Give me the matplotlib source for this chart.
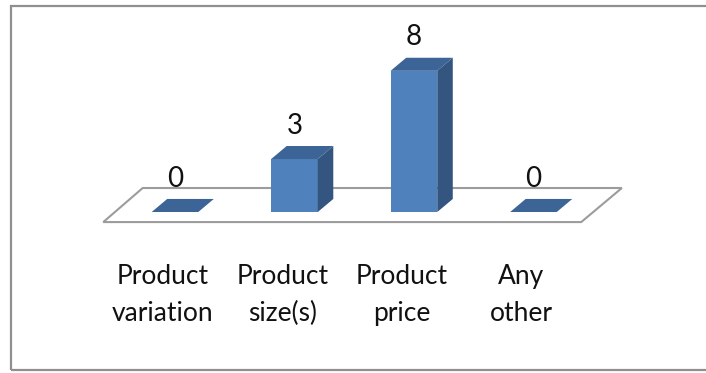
import matplotlib
matplotlib.use("Agg")
import matplotlib.pyplot as plt
from matplotlib.patches import Polygon, Rectangle

# survey counts per reason
categories = ["Product\nvariation", "Product\nsize(s)", "Product\nprice", "Any\nother"]
counts = [0, 3, 8, 0]

# colours of the 3-D column faces
FRONT = "#4f81bd"
TOP = "#3c6496"
SIDE = "#34557f"
FLOOR_EDGE = "#9c9c9c"

# column geometry in data units
BAR_W = 0.39
DEPTH_X = 0.13
DEPTH_Y = 0.74

plt.rcParams["font.family"] = ["Lato", "DejaVu Sans"]

fig = plt.figure(figsize=(7.06, 3.73), dpi=100)
ax = fig.add_axes([0.1632, 0.4316, 0.677, 0.4732])
ax.set_xlim(-0.5, 3.5)
ax.set_ylim(0, 10)
ax.axis("off")

# floor of the plot area
floor = Polygon([(-0.60, -0.57), (3.40, -0.57), (3.74, 1.36), (-0.27, 1.36)],
                closed=True, facecolor="white", edgecolor=FLOOR_EDGE,
                lw=1.5, clip_on=False, zorder=1)
ax.add_patch(floor)

for i, v in enumerate(counts):
    x0, x1 = i - BAR_W / 2, i + BAR_W / 2
    if v > 0:
        ax.add_patch(Polygon([(x0, 0), (x1, 0), (x1, v), (x0, v)],
                             closed=True, facecolor=FRONT, edgecolor="none",
                             clip_on=False, zorder=3))
        ax.add_patch(Polygon([(x1, 0), (x1, v), (x1 + DEPTH_X, v + DEPTH_Y),
                              (x1 + DEPTH_X, DEPTH_Y)],
                             closed=True, facecolor=SIDE, edgecolor="none",
                             clip_on=False, zorder=3))
    ax.add_patch(Polygon([(x0, v), (x1, v), (x1 + DEPTH_X, v + DEPTH_Y),
                          (x0 + DEPTH_X, v + DEPTH_Y)],
                         closed=True, facecolor=TOP, edgecolor="none",
                         clip_on=False, zorder=3))
    ax.text(i, v + DEPTH_Y + 1.15, str(v), ha="center", va="center",
            fontsize=20, color="#111111", clip_on=False, zorder=4)

for i, name in enumerate(categories):
    ax.text(i - 0.1, -4.72, name, ha="center", va="center", fontsize=19,
            color="#111111", linespacing=1.6, clip_on=False)

# chart border, right side runs off the canvas
fig.add_artist(Rectangle((11 / 706, 3 / 373), 1.2, 364 / 373,
                         transform=fig.transFigure, facecolor="none",
                         edgecolor="#8f8f8f", lw=1.6))

fig.savefig("out.png", dpi=100)
